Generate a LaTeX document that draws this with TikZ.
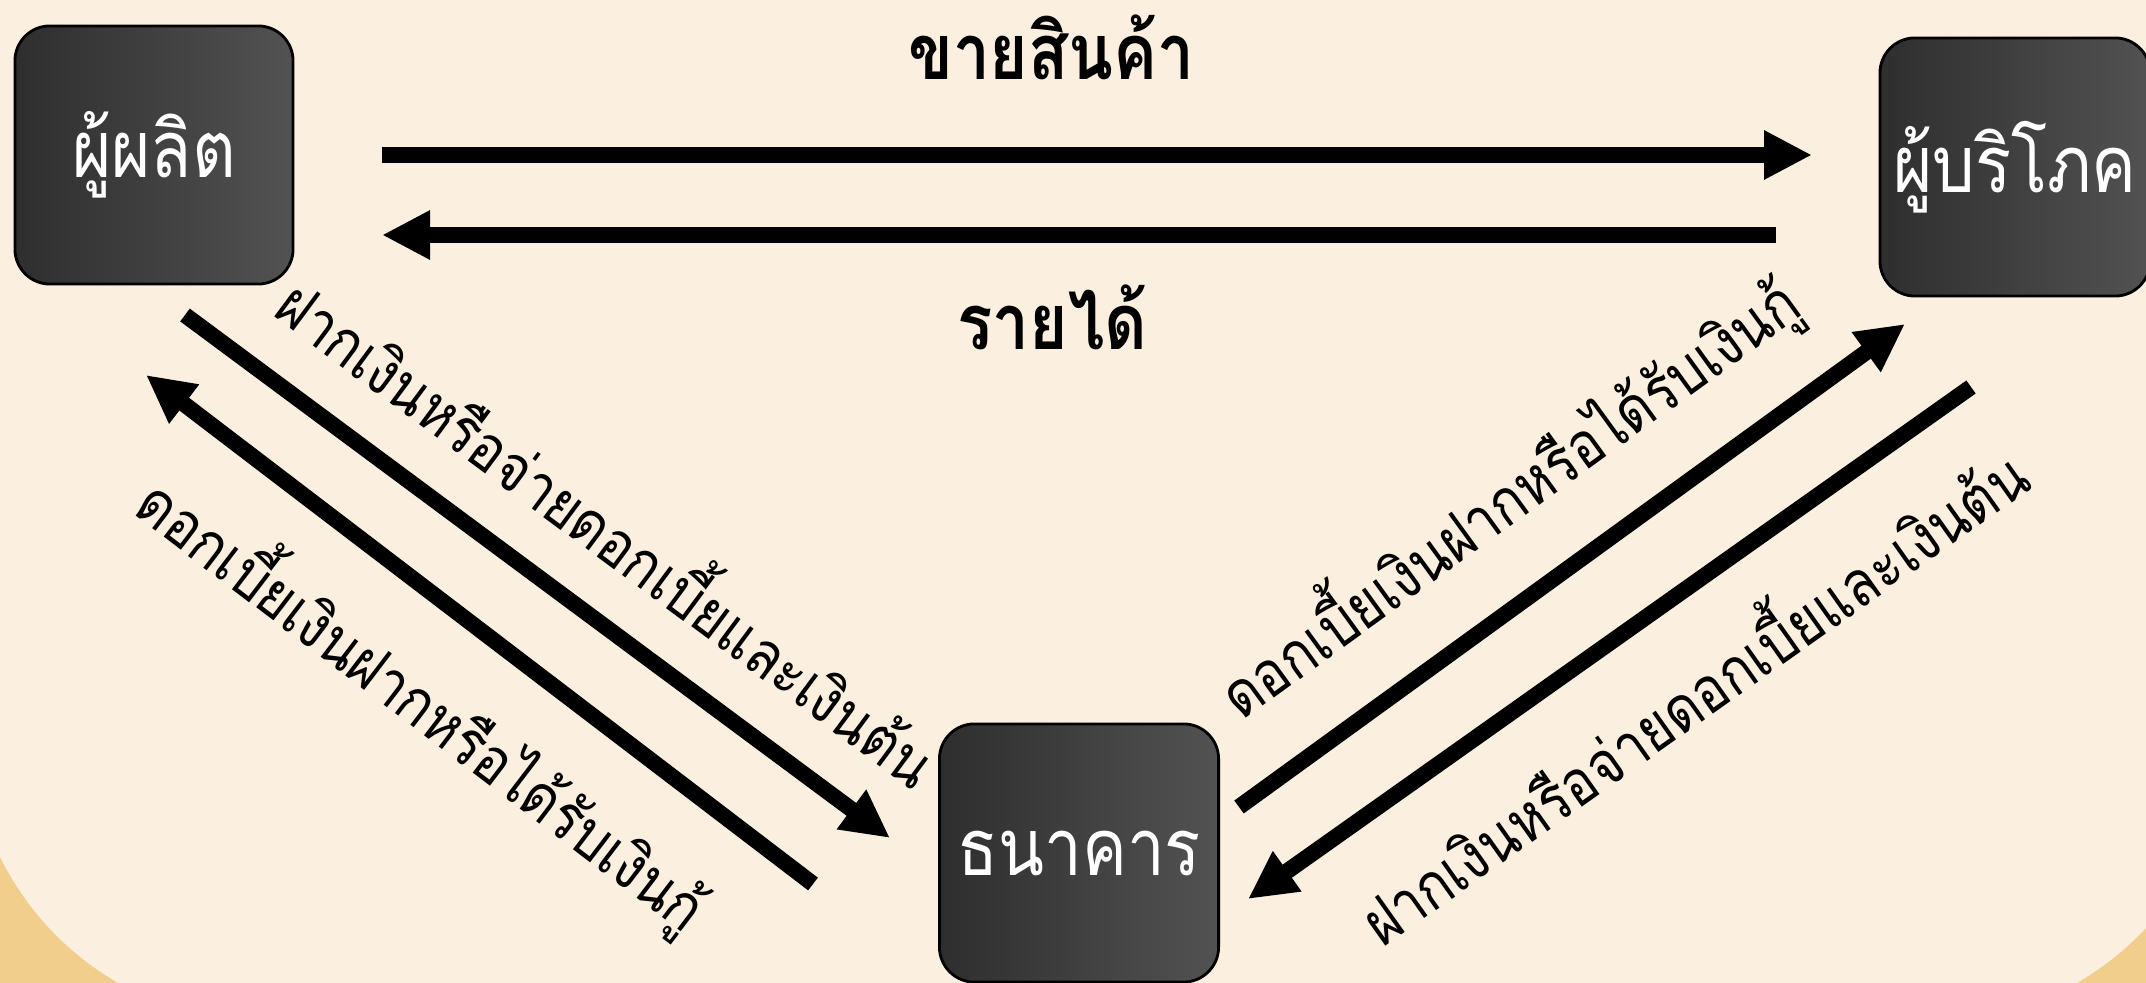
\documentclass[tikz,border=0pt]{standalone}
\usepackage{fontspec}
\newfontfamily\thaifont[Script=Thai, FakeStretch=0.85]{Loma}
\usetikzlibrary{arrows.meta}

\definecolor{creambg}{HTML}{FBF0DF}
\definecolor{tanbg}{HTML}{F2CE8D}
\definecolor{boxdark}{HTML}{2E2E2E}
\definecolor{boxlight}{HTML}{525252}

\tikzset{
	actor/.style={draw=black, line width=0.8pt, rounded corners=0.35cm,
		left color=boxdark, right color=boxlight, text=white,
		font=\thaifont\fontsize{22.5}{26}\selectfont,
		minimum width=2.78cm, minimum height=2.58cm, inner sep=0pt},
	flow/.style={line width=0.16cm, -{Triangle[length=4.8mm,width=4.6mm]}},
	toplabel/.style={font=\thaifont\bfseries\fontsize{22}{26}\selectfont, inner sep=0pt},
	sidelabel/.style={font=\thaifont\fontsize{18}{22}\selectfont, inner sep=0pt, sloped},
}

\begin{document}
\begin{tikzpicture}[x=0.01cm, y=-0.01cm]
	\useasboundingbox (0,0) rectangle (2146,983);
	\clip (0,0) rectangle (2146,983);
	\fill[tanbg] (0,0) rectangle (2146,983);
	\fill[creambg, rounded corners=2.95cm] (-30,-400) rectangle (2225,1022);

	\node[actor] (prod) at (154,155) {ผู้ผลิต};
	\node[actor, minimum width=2.7cm] (cons) at (2015,167) {ผู้บริโภค};
	\node[actor, minimum width=2.79cm] (bank) at (1079,853) {ธนาคาร};

	\coordinate (sellA) at (382,155);
	\coordinate (sellB) at (1812,155);
	\coordinate (incA) at (1776,235);
	\coordinate (incB) at (382,235);
	\coordinate (pdA) at (185,315);
	\coordinate (pdB) at (890,838);
	\coordinate (bpA) at (813,884);
	\coordinate (bpB) at (146,375);
	\coordinate (bcA) at (1239,807);
	\coordinate (bcB) at (1905,324);
	\coordinate (cdA) at (1971,387);
	\coordinate (cdB) at (1248,899);

	\draw [flow] (sellA) -- (sellB) node[toplabel, pos=.468, above=0.67cm] {ขายสินค้า};
	\draw [flow] (incA) -- (incB) node[toplabel, pos=.519, below=0.42cm] {รายได้};
	\draw [flow] (pdA) -- (pdB) node[sidelabel, pos=.534, above=0.43cm] {ฝากเงินหรือจ่ายดอกเบี้ยและเงินต้น};
	\draw [flow] (bpA) -- (bpB) node[sidelabel, pos=.5, below=0.43cm] {ดอกเบี้ยเงินฝากหรือได้รับเงินกู้};
	\draw [flow] (bcA) -- (bcB) node[sidelabel, pos=.486, above=0.43cm] {ดอกเบี้ยเงินฝากหรือได้รับเงินกู้};
	\draw [flow] (cdA) -- (cdB) node[sidelabel, pos=.458, below=0.43cm] {ฝากเงินหรือจ่ายดอกเบี้ยและเงินต้น};
\end{tikzpicture}
\end{document}
